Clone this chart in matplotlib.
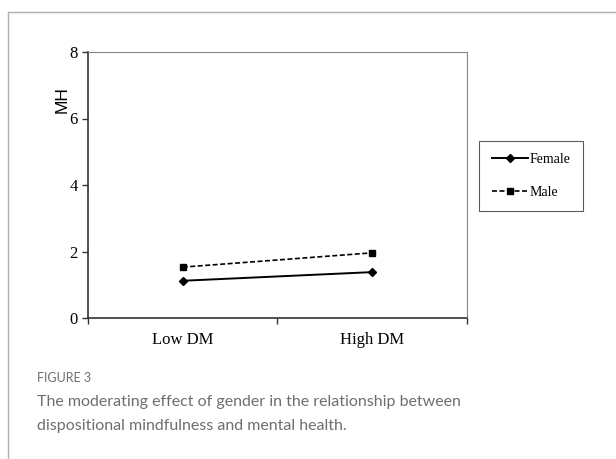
import matplotlib.pyplot as plt
from matplotlib.lines import Line2D

# simple slopes for the gender moderation
categories = ["Low DM", "High DM"]
female = [1.12, 1.38]
male = [1.53, 1.96]
y_ticks = [0, 2, 4, 6, 8]

W, H = 616, 459
fig = plt.figure(figsize=(W / 100, H / 100), dpi=100)

def fx(px):
    return px / W

def fy(py):
    return 1 - py / H

# page frame
fig.add_artist(Line2D([fx(8), 1], [fy(12), fy(12)], color="#b0b0b0", lw=1))
fig.add_artist(Line2D([fx(8), fx(8)], [fy(12), 0], color="#b0b0b0", lw=1))

ax = fig.add_axes([fx(88), fy(318), fx(467) - fx(88), fy(52) - fy(318)])
x = [1, 2]
serif = "Liberation Serif"
ax.plot(x, female, color="black", lw=1.4, marker="D", ms=4.5, label="Female")
ax.plot(x, male, color="black", lw=1.2, ls=(0, (3, 1.5)), marker="s", ms=5, label="Male")

ax.set_xlim(0.5, 2.5)
ax.set_ylim(0, 8)
ax.set_yticks(y_ticks)
ax.set_yticklabels([str(v) for v in y_ticks], fontfamily=serif, fontsize=12)
ax.set_xticks([0.5, 1.5, 2.5])
ax.set_xticklabels([])
ax.set_xticks(x, minor=True)
ax.set_xticklabels(categories, minor=True, fontfamily=serif, fontsize=12)
ax.tick_params(axis="x", which="minor", length=0, pad=10)
ax.tick_params(axis="both", which="major", length=4, direction="out", width=1, color="#333333")
for side in ["left", "bottom"]:
    ax.spines[side].set_color("#333333")
    ax.spines[side].set_linewidth(1.2)
for side in ["top", "right"]:
    ax.spines[side].set_color("#888888")
    ax.spines[side].set_linewidth(0.8)

fig.text(fx(62), fy(100), "MH", rotation=90, ha="center", va="center",
         fontfamily="Liberation Sans", fontsize=12.5)

leg = fig.legend(loc="center", bbox_to_anchor=(fx(531), fy(176)),
                 prop={"family": serif, "size": 10}, frameon=True, fancybox=False,
                 edgecolor="#333333", handlelength=2.6, labelspacing=1.4,
                 borderpad=0.9, handletextpad=0.1)
leg.get_frame().set_linewidth(0.8)

fig.text(fx(37), fy(378), "FIGURE 3", fontfamily="Lato", fontsize=9,
         color="#6e6e6e", va="center")
fig.text(fx(37), fy(414), "The moderating effect of gender in the relationship between\n"
         "dispositional mindfulness and mental health.", fontfamily="Lato",
         fontsize=11.5, color="#6e6e6e", va="center", linespacing=1.85)

fig.savefig("out.png", dpi=100)
